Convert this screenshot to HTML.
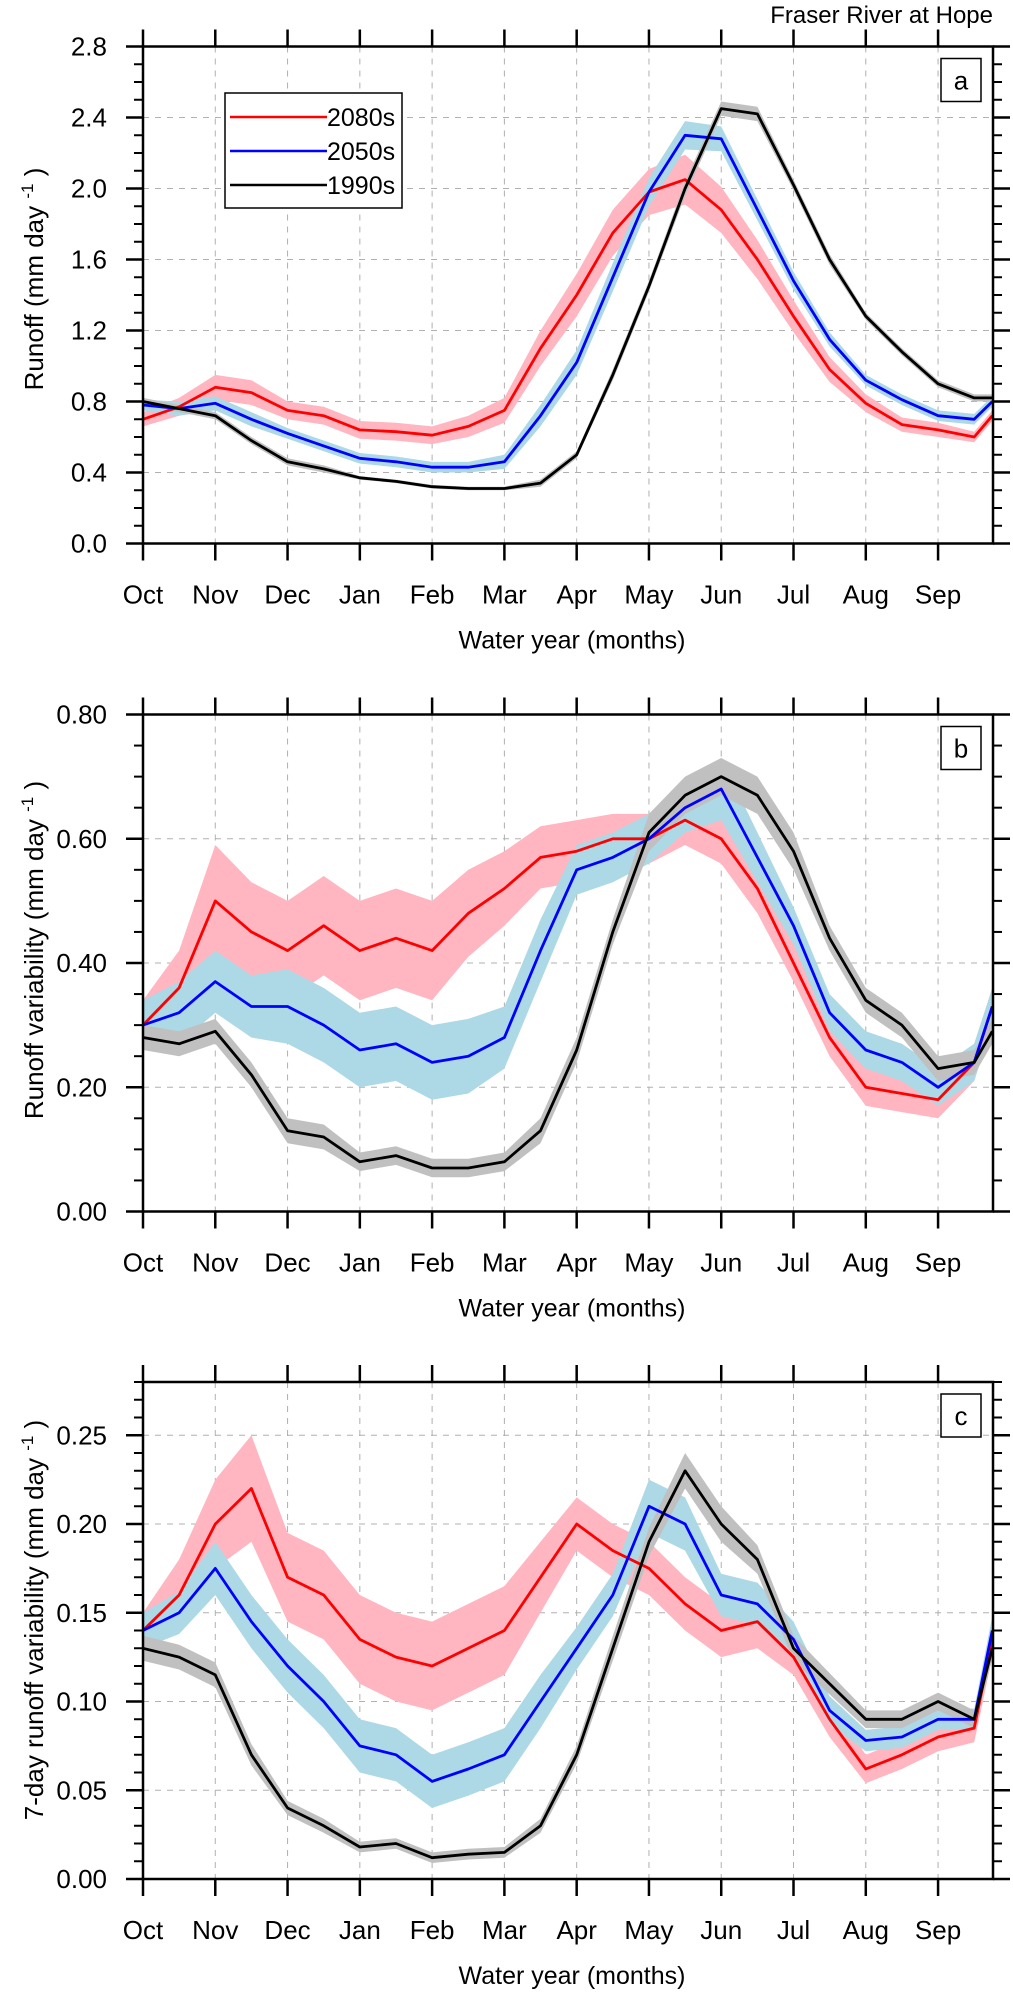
<!DOCTYPE html>
<html><head><meta charset="utf-8"><style>
html,body{margin:0;padding:0;background:#fff;}
svg{display:block;font-family:"Liberation Sans",Arial,sans-serif;}
</style></head><body>
<svg id="chart" width="1013" height="1996" viewBox="0 0 1013 1996" xmlns="http://www.w3.org/2000/svg">
<text x="993" y="23" text-anchor="end" font-size="24">Fraser River at Hope</text>
</svg>
<script>
// shared x positions (months since Oct 1)
const monthPos = [0,0.5,1,1.5,2,2.5,3,3.5,4,4.5,5,5.5,6,6.5,7,7.5,8,8.5,9,9.5,10,10.5,11,11.5,11.75];
const monthLabels = ["Oct","Nov","Dec","Jan","Feb","Mar","Apr","May","Jun","Jul","Aug","Sep"];

// Panel a: runoff mean
const a2080 = [0.70,0.77,0.88,0.85,0.75,0.72,0.64,0.63,0.61,0.66,0.75,1.10,1.40,1.75,1.98,2.05,1.88,1.60,1.28,0.98,0.79,0.67,0.64,0.60,0.72];
const a2080w = [0.04,0.05,0.07,0.07,0.05,0.05,0.05,0.05,0.05,0.06,0.07,0.10,0.12,0.13,0.13,0.14,0.13,0.11,0.09,0.07,0.05,0.04,0.04,0.03,0.03];
const a2050 = [0.78,0.76,0.79,0.70,0.62,0.55,0.48,0.46,0.43,0.43,0.46,0.72,1.02,1.50,1.98,2.30,2.28,1.88,1.48,1.15,0.92,0.81,0.72,0.70,0.80];
const a2050w = [0.03,0.04,0.04,0.04,0.03,0.03,0.03,0.03,0.03,0.03,0.04,0.06,0.07,0.08,0.08,0.08,0.07,0.06,0.05,0.04,0.03,0.03,0.03,0.03,0.03];
const a1990 = [0.80,0.76,0.72,0.58,0.46,0.42,0.37,0.35,0.32,0.31,0.31,0.34,0.50,0.95,1.45,2.00,2.45,2.42,2.02,1.60,1.28,1.08,0.90,0.82,0.82];
const a1990w = [0.02,0.02,0.02,0.02,0.02,0.02,0.01,0.01,0.01,0.01,0.01,0.02,0.02,0.03,0.03,0.04,0.04,0.04,0.03,0.03,0.02,0.02,0.02,0.02,0.02];

// Panel b: runoff variability
const b2080 = [0.30,0.36,0.50,0.45,0.42,0.46,0.42,0.44,0.42,0.48,0.52,0.57,0.58,0.60,0.60,0.63,0.60,0.52,0.40,0.28,0.20,0.19,0.18,0.24,0.33];
const b2080w = [0.04,0.06,0.09,0.08,0.08,0.08,0.08,0.08,0.08,0.07,0.06,0.05,0.05,0.04,0.04,0.04,0.04,0.04,0.03,0.03,0.03,0.03,0.03,0.03,0.03];
const b2050 = [0.30,0.32,0.37,0.33,0.33,0.30,0.26,0.27,0.24,0.25,0.28,0.42,0.55,0.57,0.60,0.65,0.68,0.57,0.46,0.32,0.26,0.24,0.20,0.24,0.33];
const b2050w = [0.04,0.05,0.05,0.05,0.06,0.06,0.06,0.06,0.06,0.06,0.05,0.05,0.04,0.04,0.04,0.04,0.05,0.04,0.03,0.03,0.03,0.03,0.03,0.03,0.03];
const b1990 = [0.28,0.27,0.29,0.22,0.13,0.12,0.08,0.09,0.07,0.07,0.08,0.13,0.26,0.45,0.61,0.67,0.70,0.67,0.58,0.44,0.34,0.30,0.23,0.24,0.29];
const b1990w = [0.02,0.02,0.02,0.02,0.02,0.02,0.015,0.015,0.015,0.015,0.015,0.02,0.02,0.02,0.03,0.03,0.03,0.03,0.03,0.02,0.02,0.02,0.02,0.02,0.02];

// Panel c: 7-day runoff variability
const c2080 = [0.14,0.16,0.20,0.22,0.17,0.16,0.135,0.125,0.12,0.13,0.14,0.17,0.20,0.185,0.175,0.155,0.14,0.145,0.125,0.09,0.062,0.07,0.08,0.085,0.135];
const c2080w = [0.01,0.02,0.025,0.03,0.025,0.025,0.025,0.025,0.025,0.025,0.025,0.02,0.015,0.015,0.015,0.015,0.015,0.015,0.01,0.01,0.008,0.008,0.008,0.008,0.01];
const c2050 = [0.14,0.15,0.175,0.145,0.12,0.10,0.075,0.07,0.055,0.062,0.07,0.10,0.13,0.16,0.21,0.20,0.16,0.155,0.135,0.095,0.078,0.08,0.09,0.09,0.14];
const c2050w = [0.01,0.012,0.015,0.015,0.015,0.015,0.015,0.015,0.015,0.015,0.015,0.015,0.012,0.012,0.015,0.015,0.012,0.012,0.01,0.008,0.006,0.006,0.006,0.006,0.008];
const c1990 = [0.13,0.125,0.115,0.07,0.04,0.03,0.018,0.02,0.012,0.014,0.015,0.03,0.07,0.13,0.19,0.23,0.20,0.18,0.13,0.11,0.09,0.09,0.10,0.09,0.13];
const c1990w = [0.007,0.007,0.007,0.006,0.004,0.004,0.003,0.003,0.003,0.003,0.003,0.004,0.005,0.007,0.008,0.01,0.01,0.008,0.007,0.006,0.005,0.005,0.005,0.005,0.006];

const yTicksA = ["0.0","0.4","0.8","1.2","1.6","2.0","2.4","2.8"];
const yTicksB = ["0.00","0.20","0.40","0.60","0.80"];
const yTicksC = ["0.00","0.05","0.10","0.15","0.20","0.25"];

const NS = "http://www.w3.org/2000/svg";
const svg = document.getElementById('chart');
const X0 = 143, X1 = 993, XMAX = 11.76;
function mk(tag, attrs, parent){const e=document.createElementNS(NS,tag);for(const k in attrs)e.setAttribute(k,attrs[k]);(parent||svg).appendChild(e);return e;}
function xs(m){return X0 + m/XMAX*(X1-X0);}

const panels = [
 {id:'a', top:46.5, bot:543.5, ymax:2.8, major:0.4, minor:0.1, ticks:yTicksA, ylab:"Runoff (mm day ", ylabY:279,
  series:[[a2080,a2080w,'#ff0000','#ffb6c1','2080s'],[a2050,a2050w,'#0000ff','#add8e6','2050s'],[a1990,a1990w,'#000000','#c0c0c0','1990s']]},
 {id:'b', top:714.5, bot:1211.5, ymax:0.8, major:0.2, minor:0.05, ticks:yTicksB, ylab:"Runoff variability (mm day ", ylabY:950,
  series:[[b2080,b2080w,'#ff0000','#ffb6c1','2080s'],[b2050,b2050w,'#0000ff','#add8e6','2050s'],[b1990,b1990w,'#000000','#c0c0c0','1990s']]},
 {id:'c', top:1382, bot:1879, ymax:0.28, major:0.05, minor:0.01, ticks:yTicksC, ylab:"7-day runoff variability (mm day ", ylabY:1620,
  series:[[c2080,c2080w,'#ff0000','#ffb6c1','2080s'],[c2050,c2050w,'#0000ff','#add8e6','2050s'],[c1990,c1990w,'#000000','#c0c0c0','1990s']]}
];

panels.forEach(p=>{
  const ys = v => p.bot - v/p.ymax*(p.bot-p.top);
  const g = mk('g',{});
  
  
  for(let i=1;i<12;i++){
    const l=mk('line',{x1:xs(i),x2:xs(i),y1:p.top,y2:p.bot,stroke:'#b0b0b0','stroke-width':1,'stroke-dasharray':'6,6'},g);
    
    
  }
  p.ticks.forEach((t,i)=>{
    const v=i*p.major; if(v<=0||v>=p.ymax-1e-9) return;
    const l=mk('line',{x1:X0,x2:X1,y1:ys(v),y2:ys(v),stroke:'#b0b0b0','stroke-width':1,'stroke-dasharray':'6,6'},g);
    
    
  });
  p.series.forEach(s=>{
    const [m,w,lc,bc,name]=s;
    let d='M';
    monthPos.forEach((x,i)=>{d+=xs(x).toFixed(1)+','+ys(m[i]+w[i]).toFixed(1)+' L';});
    for(let i=monthPos.length-1;i>=0;i--){d+=xs(monthPos[i]).toFixed(1)+','+ys(Math.max(0,m[i]-w[i])).toFixed(1)+(i>0?' L':' Z');}
    const b=mk('path',{d:d,fill:bc,stroke:'none'},g);
    
    
  });
  p.series.forEach(s=>{
    const [m,w,lc,bc,name]=s;
    const pts=monthPos.map((x,i)=>xs(x).toFixed(1)+','+ys(m[i]).toFixed(1)).join(' ');
    const l=mk('polyline',{points:pts,fill:'none',stroke:lc,'stroke-width':2.8,'stroke-linejoin':'round'},g);
    
    
  });
  const fr=mk('rect',{x:X0,y:p.top,width:X1-X0,height:p.bot-p.top,fill:'none',stroke:'#000','stroke-width':2.5},g);
  
  
  const nMinor=Math.round(p.ymax/p.minor);
  for(let i=0;i<=nMinor;i++){
    const v=i*p.minor, y=ys(v);
    const isMaj=Math.abs(v/p.major-Math.round(v/p.major))<1e-6;
    const len=isMaj?17:9;
    mk('line',{x1:X0-len,x2:X0,y1:y,y2:y,stroke:'#000','stroke-width':isMaj?2.5:2},g);
    mk('line',{x1:X1,x2:X1+len,y1:y,y2:y,stroke:'#000','stroke-width':isMaj?2.5:2},g);
  }
  p.ticks.forEach((t,i)=>{
    const tx=mk('text',{x:107,y:ys(i*p.major)+9,'text-anchor':'end','font-size':26},g);
    tx.textContent=t;
    
    
  });
  monthLabels.forEach((ml,i)=>{
    const x=xs(i);
    mk('line',{x1:x,x2:x,y1:p.bot,y2:p.bot+17,stroke:'#000','stroke-width':2.5},g);
    mk('line',{x1:x,x2:x,y1:p.top-17,y2:p.top,stroke:'#000','stroke-width':2.5},g);
    const tx=mk('text',{x:x,y:p.bot+60,'text-anchor':'middle','font-size':26},g);
    tx.textContent=ml;
    
    
  });
  const xt=mk('text',{x:572,y:p.bot+105,'text-anchor':'middle','font-size':25},g);
  xt.textContent='Water year (months)';
  
  
  const yt=mk('text',{x:0,y:0,'text-anchor':'middle','font-size':26,transform:'translate(43,'+p.ylabY+') rotate(-90)'},g);
  
  
  yt.appendChild(document.createTextNode(p.ylab));
  const sup=mk('tspan',{'font-size':17,dy:-10},yt);
  sup.textContent='-1';
  const cl=mk('tspan',{dy:10},yt);
  cl.textContent=' )';
  const lb=mk('rect',{x:941,y:p.top+12,width:40,height:43,fill:'#fff',stroke:'#000','stroke-width':1.5},g);
  
  
  const lt=mk('text',{x:961,y:p.top+43,'text-anchor':'middle','font-size':26},g);
  lt.textContent=p.id;
  
  
});

const lg=mk('g',{});


mk('rect',{x:225,y:93,width:177,height:115,fill:'#fff',stroke:'#000','stroke-width':1.5},lg);
[['2080s','#ff0000',117],['2050s','#0000ff',151],['1990s','#000000',185]].forEach(e=>{
  const eg=mk('g',{},lg);
  
  
  mk('line',{x1:230,x2:327,y1:e[2],y2:e[2],stroke:e[1],'stroke-width':2.5},eg);
  const t=mk('text',{x:327,y:e[2]+9,'font-size':25},eg);
  t.textContent=e[0];
});
</script>
</body></html>
